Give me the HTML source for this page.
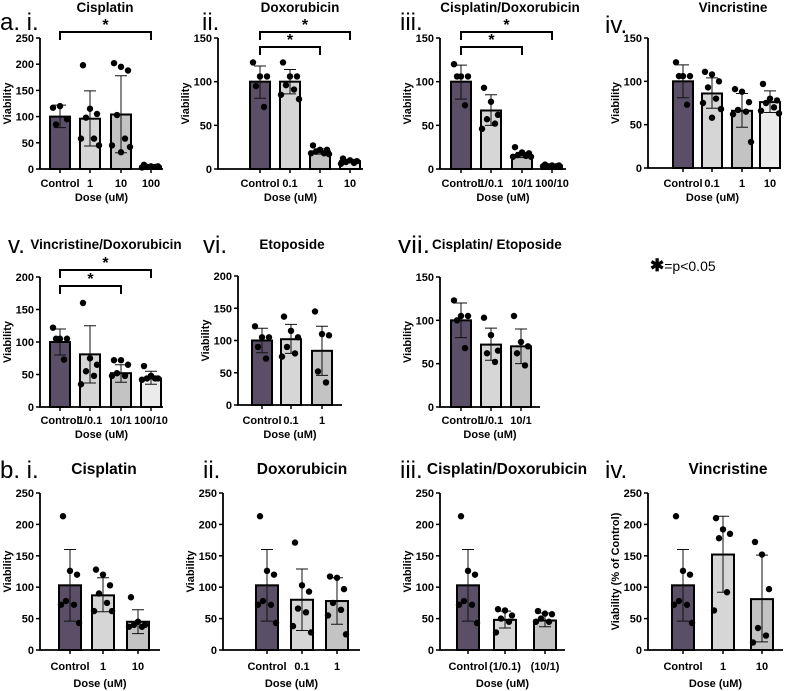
<!DOCTYPE html>
<html><head><meta charset="utf-8"><style>
body{margin:0;background:#fff}
svg{display:block;font-family:"Liberation Sans",Arial,sans-serif}
.t{font-weight:bold;font-size:11px}
.tt{font-weight:bold;font-size:13.5px}
.pl{font-size:24px}
</style></head><body>
<svg id="fig" width="794" height="691" viewBox="0 0 794 691">
<text class="pl" x="0" y="30">a. i.</text>
<text class="pl" x="202" y="30">ii.</text>
<text class="pl" x="400" y="30">iii.</text>
<text class="pl" x="605" y="33">iv.</text>
<text class="pl" x="8" y="253">v.</text>
<text class="pl" x="203" y="253">vi.</text>
<text class="pl" x="398" y="253" textLength="32" lengthAdjust="spacingAndGlyphs">vii.</text>
<text class="pl" x="0" y="478">b. i.</text>
<text class="pl" x="203" y="478">ii.</text>
<text class="pl" x="400" y="478">iii.</text>
<text class="pl" x="605" y="478">iv.</text>
<text x="650" y="271" font-size="14"><tspan font-weight="bold" font-size="17">✱</tspan>=p&lt;0.05</text>
</svg>
<script>
const ai_cats=["Control","1","10","100"], ai_means=[100,96,104,5], ai_lo=[79,44,31,1], ai_hi=[122,149,178,8];
const ai_pts=[[117,120,95,85],[198,115,105,98,58,58,45],[202,195,188,103,58,45,42,32],[8,5,5,4,4,3]];
const aii_cats=["Control","0.1","1","10"], aii_means=[100,100,20,9], aii_lo=[81,86,17,7], aii_hi=[118,114,23,11];
const aii_pts=[[122,106,106,95,71],[122,106,106,96,91,85,80],[27,22,22,20,18,18,17],[12,10,9,8,7,6]];
const aiii_cats=["Control","1/0.1","10/1","100/10"], aiii_means=[100,67,16,4], aiii_lo=[80,50,13,3], aiii_hi=[119,85,19,5];
const aiii_pts=[[120,106,106,106,73],[93,77,62,57,52,46],[25,19,18,16,15,14,14],[5,4,4,3,3,3]];
const aiv_cats=["Control","0.1","1","10"], aiv_means=[100,86,66,76], aiv_lo=[81,69,47,64], aiv_hi=[119,104,86,89];
const aiv_pts=[[122,106,106,106,73],[111,108,100,93,80,75,68,58],[91,88,76,67,65,62,30],[97,80,78,75,70,66,63]];
const av_cats=["Control","1/0.1","10/1","100/10"], av_means=[100,81,52,44], av_lo=[80,37,38,35], av_hi=[120,125,65,55];
const av_pts=[[122,105,105,105,73],[160,75,65,55,48,35],[72,72,65,52,48,48],[63,48,44,44,44,42]];
const avi_cats=["Control","0.1","1"], avi_means=[100,102,84], avi_lo=[81,80,46], avi_hi=[119,125,122];
const avi_pts=[[122,105,105,90,72],[137,115,105,90,80,75],[145,110,108,52,35]];
const avii_cats=["Control","1/0.1","10/1"], avii_means=[100,72,70], avii_lo=[80,54,50], avii_hi=[120,91,90];
const avii_pts=[[123,105,105,100,68],[103,83,65,62,52],[105,75,70,62,48]];
const bi_cats=["Control","1","10"], bi_means=[103,87,45], bi_lo=[46,61,26], bi_hi=[160,115,64];
const bi_pts=[[213,126,120,78,72,72,43],[128,120,103,90,75,62,62],[84,45,40,40,37,37]];
const bii_cats=["Control","0.1","1"], bii_means=[103,80,78], bii_lo=[46,31,41], bii_hi=[160,129,115];
const bii_pts=[[213,126,120,78,72,72,43],[171,103,93,66,60,38,28],[117,115,97,75,64,55,25]];
const biii_cats=["Control","(1/0.1)","(10/1)"], biii_means=[103,48,47], biii_lo=[46,35,37], biii_hi=[160,62,59];
const biii_pts=[[213,126,120,78,72,72,43],[65,63,55,50,45,28],[62,58,57,50,45,45]];
const biv_cats=["Control","1","10"], biv_means=[103,152,81], biv_lo=[46,92,13], biv_hi=[160,213,151];
const biv_pts=[[213,126,120,78,72,72,43],[210,192,185,178,92,63],[172,152,97,35,23,12]];
const ai_ticks=[0,50,100,150,200,250], p150_ticks=[0,50,100,150], p200_ticks=[0,50,100,150,200];

const NS="http://www.w3.org/2000/svg", svg=document.getElementById('fig');
const fills=["#5b4f68","#d6d6d6","#c3c3c3","#ebebeb"];
function mk(tag,at,parent){const e=document.createElementNS(NS,tag);for(const k in at)e.setAttribute(k,at[k]);(parent||svg).appendChild(e);return e;}
function panel(id,title,titleX,titleY,titleSize,anchor,cats,means,lo,hi,pts,ticks,ax,x1,yTop,yBot,centers,bw,ylabel,tickY,doseY,brackets){
  const g=mk('g',{});
  
  
  const ymax=ticks[ticks.length-1];
  const Y=v=>yBot-(v/ymax)*(yBot-yTop);
  const tt=mk('text',{x:titleX,y:titleY,'text-anchor':anchor,class:'tt',style:'font-size:'+titleSize+'px'},g);tt.textContent=title;
  
  
  cats.forEach((c,i)=>{
    const cx=centers[i];
    const b=mk('rect',{x:cx-bw/2,y:Y(means[i]),width:bw,height:yBot-Y(means[i]),fill:fills[i],stroke:'#000','stroke-width':2},g);
    
    
    const e=mk('path',{d:`M${cx},${Y(lo[i])}V${Y(hi[i])}M${cx-6},${Y(lo[i])}H${cx+6}M${cx-6},${Y(hi[i])}H${cx+6}`,stroke:'#111','stroke-width':1,fill:'none'},g);
    
    
    const offs=[-7,0,7,-4,4,-9,9,0];
    pts[i].forEach((v,j)=>{
      const d=mk('circle',{cx:cx+offs[j%offs.length],cy:Y(v),r:3.2,fill:'#000'},g);
      
      
    });
    mk('line',{x1:cx,x2:cx,y1:yBot,y2:yBot+4,stroke:'#000','stroke-width':1.5},g);
    const tl=mk('text',{x:cx,y:tickY,'text-anchor':'middle',class:'t'},g);tl.textContent=c;
    
    
  });
  mk('path',{d:`M${ax},${yTop}V${yBot}H${x1}`,stroke:'#000','stroke-width':1.8,fill:'none'},g);
  ticks.forEach(t=>{
    mk('line',{x1:ax-4,x2:ax,y1:Y(t),y2:Y(t),stroke:'#000','stroke-width':1.5},g);
    const l=mk('text',{x:ax-6,y:Y(t)+4,'text-anchor':'end',class:'t'},g);l.textContent=t;
    
    
  });
  const yl=mk('text',{x:0,y:0,'text-anchor':'middle',class:'t',transform:`translate(${ax-29},${(yTop+yBot)/2}) rotate(-90)`},g);yl.textContent=ylabel;
  
  
  const xl=mk('text',{x:(ax+x1)/2,y:doseY,'text-anchor':'middle',class:'t'},g);xl.textContent='Dose (uM)';
  
  
  (brackets||[]).forEach(br=>{
    const [i,j,by]=br;
    const p=mk('path',{d:`M${centers[i]},${by+8}V${by}H${centers[j]}V${by+8}`,stroke:'#000','stroke-width':2,fill:'none'},g);
    
    
    const s=mk('text',{x:(centers[i]+centers[j])/2,y:by-2,'text-anchor':'middle','font-size':'16','font-weight':'bold'},g);s.textContent='*';
    
    
  });
}
panel('a-i','Cisplatin',105,12,13.5,'middle',ai_cats,ai_means,ai_lo,ai_hi,ai_pts,ai_ticks,40,163,38,169,[60,90,121,151],20,'Viability',187,201,[[0,3,32]]);
panel('a-ii','Doxorubicin',300,12,13.5,'middle',aii_cats,aii_means,aii_lo,aii_hi,aii_pts,p150_ticks,218,363,38,169,[260,290,320,350],20,'Viability',187,201,[[0,3,32],[0,2,47]]);
panel('a-iii','Cisplatin/Doxorubicin',510,12,13.5,'middle',aiii_cats,aiii_means,aiii_lo,aiii_hi,aiii_pts,p150_ticks,440,566,38,169,[461,491,522,552],20,'Viability',187,201,[[0,3,32],[0,2,47]]);
panel('a-iv','Vincristine',733,12,13.5,'middle',aiv_cats,aiv_means,aiv_lo,aiv_hi,aiv_pts,p150_ticks,648,777,38,168,[683,712,742,770],20,'Viability',187,201);
panel('a-v','Vincristine/Doxorubicin',106,249,13.5,'middle',av_cats,av_means,av_lo,av_hi,av_pts,p200_ticks,40,163,277,407,[60,90,121,151],20,'Viability',424,438,[[0,3,270],[0,2,286]]);
panel('a-vi','Etoposide',292,249,13.5,'middle',avi_cats,avi_means,avi_lo,avi_hi,avi_pts,p200_ticks,238,342,276,405,[262,291,322],20,'Viability',424,438);
panel('a-vii','Cisplatin/ Etoposide',432,249,13.5,'start',avii_cats,avii_means,avii_lo,avii_hi,avii_pts,p150_ticks,440,540,277,407,[461,491,521],20,'Viability',424,438);
panel('b-i','Cisplatin',104,474,15.5,'middle',bi_cats,bi_means,bi_lo,bi_hi,bi_pts,ai_ticks,40,160,493,650,[70,103,138],22,'Viability',670,687);
panel('b-ii','Doxorubicin',302,474,15.5,'middle',bii_cats,bii_means,bii_lo,bii_hi,bii_pts,ai_ticks,223,360,493,650,[267,302,337],22,'Viability',670,687);
panel('b-iii','Cisplatin/Doxorubicin',507,474,15.5,'middle',biii_cats,biii_means,biii_lo,biii_hi,biii_pts,ai_ticks,440,565,493,650,[468,505,545],22,'Viability',670,687);
panel('b-iv','Vincristine',728,474,15.5,'middle',biv_cats,biv_means,biv_lo,biv_hi,biv_pts,ai_ticks,648,783,493,650,[683,723,762],22,'Viability (% of Control)',670,687);
</script>
</body></html>
